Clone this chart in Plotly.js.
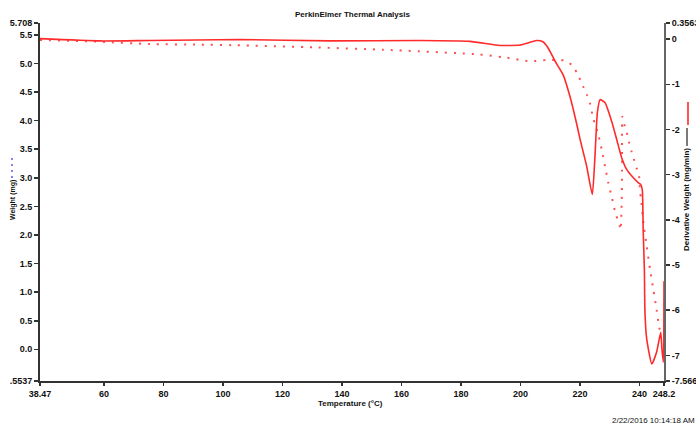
<!DOCTYPE html>
<html><head><meta charset="utf-8">
<script src="https://cdn.plot.ly/plotly-3.0.1.min.js"></script>
<style>html,body{margin:0;padding:0;background:#fff}#chart{width:696px;height:424px}</style>
</head><body><div id="chart"></div>
<script>
// Solid curve (derivative axis)
const solidT = [38.47,58.6,75.4,105.7,135.9,166.2,183.0,193.1,199.8,203.2,205.5,207.5,209.2,211.6,214.3,216.6,218.9,220.0,222.2,224.1,225.0,225.8,226.7,228.4,230.6,232.3,234.0,235.7,237.9,239.6,240.4,240.9,241.2,241.6,241.8,242.4,244.1,245.7,247.1,247.5,248.0,248.2];
const solidD = [0.01,-0.04,-0.03,-0.01,-0.04,-0.03,-0.05,-0.14,-0.13,-0.07,-0.03,-0.06,-0.19,-0.49,-0.79,-1.27,-1.89,-2.22,-2.81,-3.44,-2.59,-1.63,-1.34,-1.41,-1.82,-2.22,-2.63,-2.89,-3.07,-3.18,-3.22,-3.33,-4.21,-5.09,-6.05,-6.64,-7.19,-6.93,-6.49,-6.86,-7.15,-5.36];
// Dotted curve (weight axis)
const dotT = [38.47,58.6,75.4,92.3,103.3,131.6,153.8,185.4,194.1,203.2,208.9,215.0,217.3,219.0,221.0,222.3,223.3,224.4,226.0,227.4,228.4,229.5,230.7,232.0,233.1,233.6,234.0,234.1,234.2,235.0,235.9,236.5,237.3,238.1,239.0,239.9,240.1,240.5,241.3,242.4,243.5,244.6,245.7,246.6,247.1];
const dotW = [5.41,5.38,5.34,5.33,5.32,5.28,5.24,5.16,5.11,5.04,5.06,5.05,4.97,4.83,4.60,4.45,4.31,4.04,3.78,3.46,3.20,2.91,2.65,2.36,2.21,2.09,2.62,3.32,4.07,3.90,3.75,3.61,3.46,3.32,3.17,3.00,2.79,2.62,2.21,1.80,1.40,1.05,0.70,0.38,0.30];

const xTickVals = [38.47,60,80,100,120,140,160,180,200,220,240,248.2];
const xTickText = ["38.47","60","80","100","120","140","160","180","200","220","240","248.2"];
const yTickVals = [-0.5537,0,0.5,1,1.5,2,2.5,3,3.5,4,4.5,5,5.5,5.708];
const yTickText = [".5537","0.0","0.5","1.0","1.5","2.0","2.5","3.0","3.5","4.0","4.5","5.0","5.5","5.708"];
const y2TickVals = [-7.566,-7,-6,-5,-4,-3,-2,-1,0,0.3563];
const y2TickText = ["-7.566","-7","-6","-5","-4","-3","-2","-1","0","0.3563"];

const red = '#ff2a2a';
const tickFont = {family:'Liberation Sans, Arial, sans-serif', size:9, color:'#111', weight:'bold'};

const traces = [
  {x: dotT, y: dotW, type:'scatter', mode:'lines', yaxis:'y',
   line:{color:'#ff5050', width:2, dash:'2px,7px', shape:'spline', smoothing:0.6}, hoverinfo:'skip'},
  {x: solidT, y: solidD, type:'scatter', mode:'lines', yaxis:'y2',
   line:{color:red, width:1.6, shape:'spline', smoothing:0.5}, hoverinfo:'skip'}
];

const layout = {
  width:696, height:424,
  margin:{l:40, r:32, t:23, b:43},
  paper_bgcolor:'#fff', plot_bgcolor:'#fff',
  showlegend:false,
  font:{family:'Liberation Sans, Arial, sans-serif'},
  xaxis:{range:[38.47,248.2], showgrid:false, zeroline:false, showline:true, linecolor:'#333', linewidth:2,
    ticks:'outside', ticklen:3, tickwidth:1.5, tickcolor:'#333', tickvals:xTickVals, ticktext:xTickText, tickfont:tickFont},
  yaxis:{range:[-0.5537,5.708], showgrid:false, zeroline:false, showline:true, linecolor:'#333', linewidth:2,
    ticks:'outside', ticklen:4, tickwidth:1.5, tickcolor:'#333', tickvals:yTickVals, ticktext:yTickText, tickfont:tickFont},
  yaxis2:{range:[-7.566,0.3563], overlaying:'y', side:'right', showgrid:false, zeroline:false, showline:true,
    linecolor:'#666', linewidth:2, ticks:'outside', ticklen:4, tickwidth:1.5, tickcolor:'#333',
    tickvals:y2TickVals, ticktext:y2TickText, tickfont:tickFont},
  annotations:[
    {text:'PerkinElmer Thermal Analysis', xref:'paper', yref:'paper', x:0.5, y:(381-14)/358, xanchor:'center', yanchor:'middle',
     showarrow:false, font:{size:8, color:'#111', weight:'bold'}},
    {text:'Temperature (°C)', xref:'paper', yref:'paper', x:0.497, y:(381-404)/358, xanchor:'center', yanchor:'middle',
     showarrow:false, font:{size:8, color:'#111', weight:'bold'}},
    {text:'Weight (mg)', xref:'paper', yref:'paper', x:(13-40)/624, y:(381-200)/358, xanchor:'center', yanchor:'middle',
     textangle:-90, showarrow:false, font:{size:7, color:'#111', weight:'bold'}},
    {text:'Derivative Weight (mg/min)', xref:'paper', yref:'paper', x:(687-40)/624, y:(381-200)/358, xanchor:'center', yanchor:'middle',
     textangle:-90, showarrow:false, font:{size:8, color:'#111', weight:'bold'}},
    {text:'2/22/2016 10:14:18 AM', xref:'paper', yref:'paper', x:(610-40)/624, y:(381-420)/358, xanchor:'left', yanchor:'middle',
     showarrow:false, font:{size:8, color:'#111'}}
  ],
  shapes:[
    {type:'line', xref:'paper', yref:'paper', x0:(687-40)/624, x1:(687-40)/624, y0:(381-146)/358, y1:(381-128)/358, line:{color:'#222', width:1.2}},
    {type:'line', xref:'paper', yref:'paper', x0:(688-40)/624, x1:(688-40)/624, y0:(381-125)/358, y1:(381-102)/358, line:{color:red, width:1.6}},
    {type:'line', xref:'paper', yref:'paper', x0:(12-40)/624, x1:(12-40)/624, y0:(381-178)/358, y1:(381-158)/358, line:{color:'#5a5aff', width:1.5, dash:'2px,4px'}}
  ]
};
Plotly.newPlot('chart', traces, layout, {staticPlot:true, displayModeBar:false});
</script></body></html>
